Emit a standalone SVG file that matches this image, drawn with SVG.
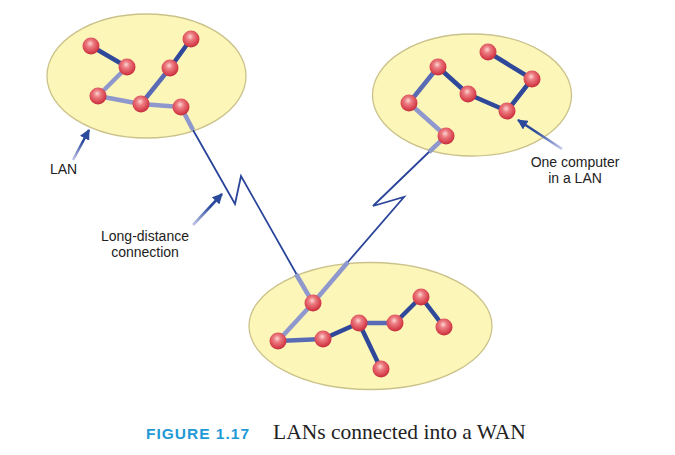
<svg xmlns="http://www.w3.org/2000/svg" width="675" height="455" viewBox="0 0 675 455">
<defs>
<radialGradient id="ball" cx="0.45" cy="0.4" r="0.6" fx="0.45" fy="0.35">
<stop offset="0" stop-color="#fbd6d4"/>
<stop offset="0.35" stop-color="#ec7b80"/>
<stop offset="0.8" stop-color="#d8434f"/>
<stop offset="1" stop-color="#c22c3b"/>
</radialGradient>
<marker id="ah" viewBox="0 0 10 10" refX="9" refY="5" markerWidth="4" markerHeight="4" orient="auto" markerUnits="strokeWidth">
<path d="M0,0 L10,5 L0,10 z" fill="#2b4a9c"/>
</marker>
<linearGradient id="g1" gradientUnits="userSpaceOnUse" x1="73" y1="160" x2="89" y2="130">
<stop offset="0" stop-color="#c5c9ea"/><stop offset="0.6" stop-color="#2b4a9c"/></linearGradient>
<linearGradient id="g2" gradientUnits="userSpaceOnUse" x1="193" y1="225" x2="222" y2="194">
<stop offset="0" stop-color="#c5c9ea"/><stop offset="0.6" stop-color="#2b4a9c"/></linearGradient>
<linearGradient id="g3" gradientUnits="userSpaceOnUse" x1="562" y1="149" x2="518" y2="120">
<stop offset="0" stop-color="#c5c9ea"/><stop offset="0.6" stop-color="#2b4a9c"/></linearGradient>
</defs>
<style>
.lan{fill:#fdf6b9;stroke:#cbc28a;stroke-width:1.3}
.d{stroke:#2f4899;stroke-width:4.5;stroke-linecap:round;fill:none}
.m{stroke:#5a6bb5;stroke-width:4.5;stroke-linecap:round;fill:none}
.l{stroke:#8f98cc;stroke-width:4.5;fill:none}
.wire{stroke:#2a4599;stroke-width:1.8;fill:none;stroke-linejoin:miter}
.n{fill:url(#ball)}
.lbl{font-family:"Liberation Sans",Arial,sans-serif;font-size:14px;fill:#222}
.arr{stroke-width:2.6;fill:none;marker-end:url(#ah)}
</style>
<rect width="675" height="455" fill="#ffffff"/>

<g id="lan-top-left">
<ellipse class="lan" cx="146.5" cy="76" rx="99.5" ry="62"/>
</g>
<g id="lan-top-right">
<ellipse class="lan" cx="472" cy="95" rx="99.5" ry="61"/>
</g>
<g id="lan-bottom">
<ellipse class="lan" cx="370.5" cy="326" rx="121.5" ry="63.5"/>
</g>

<g id="connectors">
<polyline class="wire" points="193,130 235,204 241,176 297,275"/>
<polyline class="wire" points="347,263 404,197 373,206 430,151"/>
<line class="l" x1="181" y1="107" x2="193" y2="130"/>
<line class="l" x1="313" y1="303" x2="296" y2="274"/>
<line class="l" x1="313" y1="303" x2="348" y2="262"/>
<line class="l" x1="446" y1="136" x2="429" y2="152"/>
<line class="d" x1="91" y1="46" x2="127" y2="67"/>
<line class="l" x1="127" y1="67" x2="98" y2="96"/>
<line class="l" x1="98" y1="96" x2="141" y2="104"/>
<line class="m" x1="141" y1="104" x2="170" y2="68"/>
<line class="d" x1="170" y1="68" x2="191" y2="39"/>
<line class="l" x1="141" y1="104" x2="181" y2="107"/>
<line class="d" x1="488" y1="52" x2="532" y2="79"/>
<line class="d" x1="532" y1="79" x2="507" y2="111"/>
<line class="d" x1="507" y1="111" x2="468" y2="94"/>
<line class="d" x1="468" y1="94" x2="438" y2="67"/>
<line class="m" x1="438" y1="67" x2="409" y2="103"/>
<line class="l" x1="409" y1="103" x2="446" y2="136"/>
<line class="l" x1="313" y1="303" x2="278" y2="341"/>
<line class="m" x1="278" y1="341" x2="323" y2="339"/>
<line class="d" x1="323" y1="339" x2="359" y2="323"/>
<line class="m" x1="359" y1="323" x2="395" y2="323"/>
<line class="d" x1="395" y1="323" x2="421" y2="297"/>
<line class="d" x1="421" y1="297" x2="444" y2="327"/>
<line class="d" x1="359" y1="323" x2="381" y2="369"/>
<line class="arr" stroke="url(#g1)" x1="73" y1="160" x2="89" y2="130"/>
<line class="arr" stroke="url(#g2)" x1="193" y1="225" x2="222" y2="194"/>
<line class="arr" stroke="url(#g3)" x1="562" y1="149" x2="518" y2="120"/>
</g>

<g id="nodes-top-left">
<circle class="n" cx="91" cy="46" r="8.5"/>
<circle class="n" cx="127" cy="67" r="8.5"/>
<circle class="n" cx="191" cy="39" r="8.5"/>
<circle class="n" cx="170" cy="68" r="8.5"/>
<circle class="n" cx="98" cy="96" r="8.5"/>
<circle class="n" cx="141" cy="104" r="8.5"/>
<circle class="n" cx="181" cy="107" r="8.5"/>
</g>
<g id="nodes-top-right">
<circle class="n" cx="488" cy="52" r="8.5"/>
<circle class="n" cx="532" cy="79" r="8.5"/>
<circle class="n" cx="507" cy="111" r="8.5"/>
<circle class="n" cx="468" cy="94" r="8.5"/>
<circle class="n" cx="438" cy="67" r="8.5"/>
<circle class="n" cx="409" cy="103" r="8.5"/>
<circle class="n" cx="446" cy="136" r="8.5"/>
</g>
<g id="nodes-bottom">
<circle class="n" cx="313" cy="303" r="8.5"/>
<circle class="n" cx="278" cy="341" r="8.5"/>
<circle class="n" cx="323" cy="339" r="8.5"/>
<circle class="n" cx="359" cy="323" r="8.5"/>
<circle class="n" cx="395" cy="323" r="8.5"/>
<circle class="n" cx="421" cy="297" r="8.5"/>
<circle class="n" cx="444" cy="327" r="8.5"/>
<circle class="n" cx="381" cy="369" r="8.5"/>
</g>

<g id="label-lan">
<text class="lbl" x="50" y="174">LAN</text>
</g>
<g id="label-long-distance">
<text class="lbl" x="145" y="241" text-anchor="middle">Long-distance</text>
<text class="lbl" x="145" y="257" text-anchor="middle">connection</text>
</g>
<g id="label-computer">
<text class="lbl" x="575" y="167" text-anchor="middle">One computer</text>
<text class="lbl" x="575" y="183" text-anchor="middle">in a LAN</text>
</g>
<g id="caption">
<text x="146" y="439" font-family="'Liberation Sans',Arial,sans-serif" font-weight="bold" font-size="15.5" letter-spacing="1.0" fill="#1f9ad6">FIGURE 1.17</text>
<text x="273" y="439" font-family="'Liberation Serif','Times New Roman',serif" font-size="21.5" fill="#222">LANs connected into a WAN</text>
</g>
</svg>
